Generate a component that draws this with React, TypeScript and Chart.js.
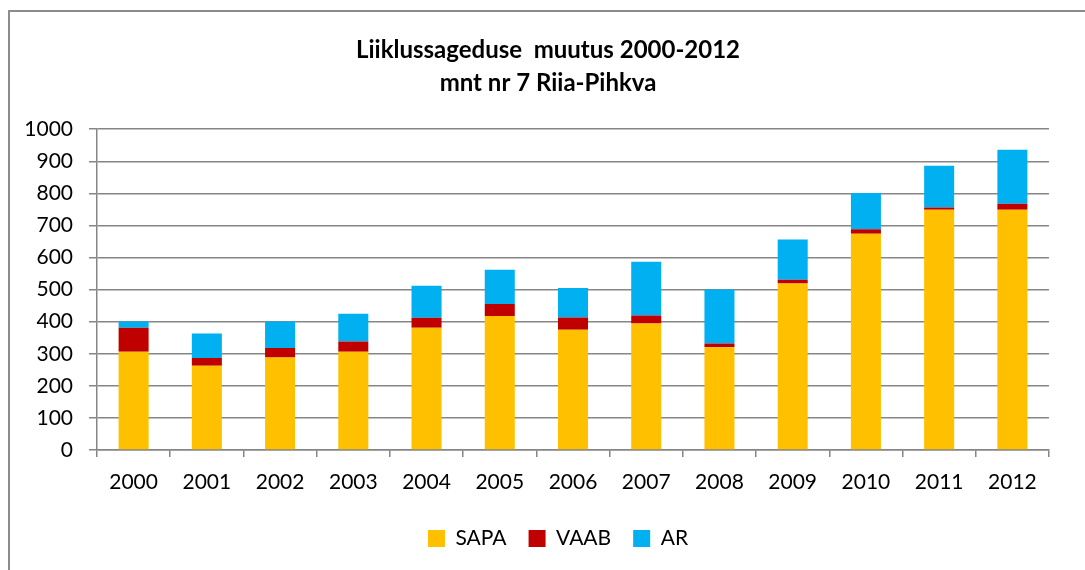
import React, { useEffect, useRef } from "react";
import { Chart, registerables } from "chart.js";

Chart.register(...registerables);

const categories = ["2000", "2001", "2002", "2003", "2004", "2005", "2006", "2007", "2008", "2009", "2010", "2011", "2012"];
const sapa = [306, 263, 288, 306, 381, 418, 375, 394, 320, 519, 674, 749, 749];
const vaab = [75, 24, 30, 32, 31, 37, 38, 25, 12, 12, 14, 7, 19];
const ar = [20, 76, 83, 87, 100, 107, 92, 168, 168, 125, 113, 130, 168];
const titleLines = ["Liiklussageduse  muutus 2000-2012", "mnt nr 7 Riia-Pihkva"];

const GRID = "#868686";
const FONT = "Lato, 'Noto Sans', sans-serif";

const shiftLegend = {
  id: "shiftLegend",
  afterLayout(c: any) {
    if (c.legend) {
      c.legend.left += 10;
      c.legend.right += 10;
    }
  },
};

export default function App() {
  const ref = useRef<HTMLCanvasElement | null>(null);

  useEffect(() => {
    if (!ref.current) return;
    const chart = new Chart(ref.current, {
      type: "bar",
      data: {
        labels: categories,
        datasets: [
          { label: "SAPA", data: sapa, backgroundColor: "#FFC000", borderWidth: 0 },
          { label: "VAAB", data: vaab, backgroundColor: "#C00000", borderWidth: 0 },
          { label: "AR", data: ar, backgroundColor: "#00B0F0", borderWidth: 0 },
        ],
      },
      plugins: [shiftLegend],
      options: {
        responsive: false,
        animation: false,
        devicePixelRatio: 1,
        layout: { padding: { left: 47, right: 36, top: 0, bottom: 11 } },
        datasets: { bar: { categoryPercentage: 1, barPercentage: 0.41 } },
        plugins: {
          tooltip: { enabled: false },
          title: {
            display: true,
            text: titleLines,
            color: "#000",
            font: { family: FONT, size: 24, weight: "bold", lineHeight: 1.38 },
            padding: { top: 34, bottom: 29 },
          },
          legend: {
            position: "bottom",
            labels: {
              color: "#000",
              boxWidth: 17,
              boxHeight: 17,
              padding: 22,
              font: { family: FONT, size: 21 },
            },
          },
        },
        scales: {
          x: {
            stacked: true,
            grid: { display: true, drawOnChartArea: false, drawTicks: true, tickLength: 7, color: GRID, lineWidth: 1.5 },
            border: { display: true, color: GRID, width: 1.5 },
            ticks: { color: "#000", padding: 13, font: { family: FONT, size: 21 }, maxRotation: 0 },
            afterFit: (s: any) => { s.height = 56; },
          },
          y: {
            stacked: true,
            min: 0,
            max: 1000,
            grid: { color: GRID, lineWidth: 1.5, tickLength: 8 },
            border: { display: true, color: GRID, width: 1.5 },
            ticks: {
              stepSize: 100,
              color: "#000",
              padding: 16,
              font: { family: FONT, size: 21 },
              callback: (v: any) => String(v),
            },
            afterFit: (s: any) => {
              s.width = 50;
              s._computeLabelArea = () => undefined;
            },
          },
        },
      },
    });
    return () => chart.destroy();
  }, []);

  return (
    <div style={{ position: "absolute", left: 0, top: 0, width: 1085, height: 570, background: "#fff", overflow: "hidden" }}>
      <div
        style={{
          position: "absolute",
          left: 8,
          top: 10,
          width: 1200,
          height: 700,
          borderLeft: "2px solid #8c8c8c",
          borderTop: "2px solid #8c8c8c",
        }}
      />
      <canvas ref={ref} width={1085} height={570} style={{ position: "absolute", left: 0, top: 0, display: "block" }} />
    </div>
  );
}
